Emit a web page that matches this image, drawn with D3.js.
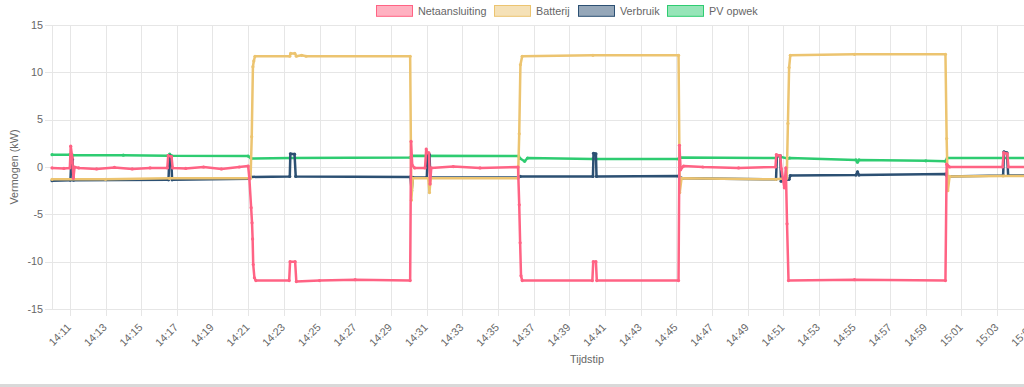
<!DOCTYPE html>
<html>
<head>
<meta charset="utf-8">
<script src="https://cdn.jsdelivr.net/npm/d3@7"></script>
<style>
body { margin: 0; overflow: hidden; background: #fff; }
svg { display: block; font-family: "Liberation Sans", Arial, sans-serif; }
</style>
</head>
<body>
<svg id="chart" width="1136" height="387"></svg>
<script>
// series data, [tijdstip, kW]
const netaansluiting = [
    ['14:10:00', -0.1], ['14:10:40', -0.15], ['14:11:00', -0.1], ['14:11:03', 2.2], ['14:11:08', 1.0],
    ['14:11:12', -1.2], ['14:11:16', 0.0], ['14:11:30', -0.1], ['14:12:30', -0.2], ['14:13:30', -0.05],
    ['14:14:30', -0.2], ['14:15:30', -0.1], ['14:16:28', -0.1], ['14:16:31', 1.2], ['14:16:42', 1.1],
    ['14:16:46', -0.1], ['14:17:30', -0.15], ['14:18:30', 0.0], ['14:19:30', -0.2], ['14:20:30', 0.0],
    ['14:21:00', 0.1], ['14:21:04', -1.2], ['14:21:10', -4.3], ['14:21:13', -5.9], ['14:21:15', -7.6],
    ['14:21:17', -10.3], ['14:21:21', -11.7], ['14:21:26', -12.0], ['14:23:18', -12.0], ['14:23:21', -10.0],
    ['14:23:38', -10.0], ['14:23:42', -12.1], ['14:25:00', -12.0], ['14:27:00', -11.9], ['14:30:05', -12.0],
    ['14:30:08', 2.7], ['14:30:12', 0.2], ['14:30:20', -0.1], ['14:30:55', -0.1], ['14:30:59', 1.9],
    ['14:31:03', 1.5], ['14:31:08', 1.5], ['14:31:12', -1.8], ['14:31:16', -0.1], ['14:32:30', 0.05],
    ['14:34:00', -0.1], ['14:36:08', 0.0], ['14:36:12', -4.0], ['14:36:15', -8.0], ['14:36:18', -11.5],
    ['14:36:22', -12.0], ['14:40:18', -12.0], ['14:40:21', -10.0], ['14:40:30', -10.0], ['14:40:33', -12.0],
    ['14:45:08', -12.0], ['14:45:11', 2.3], ['14:45:15', -0.3], ['14:45:25', 0.1], ['14:46:30', 0.0],
    ['14:48:30', -0.1], ['14:50:34', 0.0], ['14:50:37', 1.3], ['14:50:50', 1.2], ['14:50:54', -0.2],
    ['14:51:04', -2.2], ['14:51:09', -0.1], ['14:51:13', -6.0], ['14:51:18', -12.0], ['14:55:00', -11.9],
    ['15:00:06', -12.0], ['15:00:10', 0.3], ['15:00:20', 0.0], ['15:03:18', 0.0], ['15:03:22', 1.5],
    ['15:03:34', 1.4], ['15:03:38', 0.0], ['15:10:00', 0.0]
];

const batterij = [
    ['14:10:00', -1.3], ['14:13:00', -1.3], ['14:16:35', -1.2], ['14:21:08', -1.2], ['14:21:12', 3.2],
    ['14:21:16', 10.6], ['14:21:19', 11.2], ['14:21:23', 11.7], ['14:23:20', 11.7], ['14:23:23', 12.0],
    ['14:23:37', 12.0], ['14:23:42', 11.7], ['14:24:00', 11.8], ['14:24:15', 11.7], ['14:30:05', 11.7],
    ['14:30:09', -3.5], ['14:30:14', -1.2], ['14:31:06', -1.2], ['14:31:10', -2.7], ['14:31:14', -1.2],
    ['14:36:08', -1.2], ['14:36:12', 3.5], ['14:36:16', 10.8], ['14:36:22', 11.7], ['14:40:20', 11.8],
    ['14:45:08', 11.8], ['14:45:12', -2.7], ['14:45:18', -1.2], ['14:50:35', -1.3], ['14:51:12', -1.2],
    ['14:51:16', 4.6], ['14:51:20', 10.5], ['14:51:24', 11.8], ['14:55:00', 11.9], ['15:00:06', 11.9],
    ['15:00:10', 3.0], ['15:00:14', -2.5], ['15:00:20', -1.0], ['15:03:20', -0.95], ['15:10:00', -1.0]
];

const verbruik = [
    ['14:10:00', -1.45], ['14:11:02', -1.4], ['14:11:05', 0.8], ['14:11:09', 0.8], ['14:11:12', -1.4],
    ['14:16:32', -1.35], ['14:16:35', 1.2], ['14:16:41', 1.1], ['14:16:44', -1.35], ['14:21:05', -1.25],
    ['14:21:08', -1.05], ['14:23:20', -1.0], ['14:23:22', 1.4], ['14:23:36', 1.35], ['14:23:40', -1.0],
    ['14:30:06', -1.05], ['14:30:10', -2.5], ['14:30:14', -1.1], ['14:31:01', -1.1], ['14:31:04', 1.3],
    ['14:31:10', 1.3], ['14:31:13', -1.1], ['14:36:10', -1.1], ['14:36:15', -1.0], ['14:40:20', -1.0],
    ['14:40:22', 1.45], ['14:40:30', 1.4], ['14:40:32', -1.0], ['14:45:08', -0.95], ['14:45:20', -1.2],
    ['14:50:36', -1.3], ['14:50:39', 1.2], ['14:50:50', 1.2], ['14:50:53', -1.5], ['14:51:20', -1.3],
    ['14:51:24', -0.9], ['14:55:05', -0.85], ['14:55:10', -0.5], ['14:55:15', -0.85], ['15:00:06', -0.75],
    ['15:00:12', -1.0], ['15:03:20', -0.9], ['15:03:23', 1.6], ['15:03:33', 1.5], ['15:03:37', -0.9],
    ['15:10:00', -0.9]
];

const pvOpwek = [
    ['14:10:00', 1.3], ['14:11:00', 1.3], ['14:11:05', 1.0], ['14:11:10', 1.25], ['14:14:00', 1.25],
    ['14:16:30', 1.2], ['14:16:36', 1.35], ['14:16:42', 1.2], ['14:21:00', 1.15], ['14:21:10', 0.9],
    ['14:23:20', 0.95], ['14:30:05', 1.0], ['14:30:10', 1.2], ['14:36:10', 1.15], ['14:36:15', 0.9],
    ['14:36:30', 0.6], ['14:36:40', 0.95], ['14:40:20', 0.85], ['14:45:08', 0.85], ['14:45:12', 1.0],
    ['14:50:36', 0.95], ['14:50:40', 1.15], ['14:51:15', 0.9], ['14:51:22', 0.95], ['14:55:05', 0.75],
    ['14:55:10', 0.5], ['14:55:15', 0.75], ['14:59:00', 0.65], ['15:00:06', 0.62], ['15:00:12', 0.95],
    ['15:10:00', 0.95]
];

const seriesNames = ['Netaansluiting', 'Batterij', 'Verbruik', 'PV opwek'];
const seriesColors = ['rgb(255,99,132)', 'rgb(236,196,112)', 'rgb(44,80,115)', 'rgb(46,204,113)'];
const yTicks = [-15, -10, -5, 0, 5, 10, 15];
const timeStart = '14:10:00';
const timeEnd = '15:10:00';

// layout
const svg = d3.select('#chart');
const plotLeft = 52, plotRight = 1122, plotTop = 25, plotBottom = 309;
const gridColor = '#e6e6e6';
const textColor = '#666';
const fontSize = 10.8; // page looks zoomed to 90%

const parseTime = d3.timeParse('%H:%M:%S');

const x = d3.scaleTime()
    .domain([parseTime(timeStart), parseTime(timeEnd)])
    .range([plotLeft, plotRight]);

const y = d3.scaleLinear()
    .domain([-15, 15])
    .range([plotBottom, plotTop]);

// ticks on the odd minutes, like the original
const xTicks = d3.timeMinute.range(x.domain()[0], x.domain()[1])
    .filter(d => d.getMinutes() % 2 === 1);

// grid
const grid = svg.append('g');
grid.selectAll('line.h')
    .data(yTicks)
    .enter()
    .append('line')
    .attr('x1', plotLeft - 7)
    .attr('x2', plotRight)
    .attr('y1', d => Math.round(y(d)) + 0.5)
    .attr('y2', d => Math.round(y(d)) + 0.5)
    .attr('stroke', gridColor);

grid.selectAll('line.v')
    .data([x.domain()[0]].concat(xTicks))
    .enter()
    .append('line')
    .attr('x1', d => Math.round(x(d)) + 0.5)
    .attr('x2', d => Math.round(x(d)) + 0.5)
    .attr('y1', plotTop)
    .attr('y2', (d, i) => i === 0 ? plotBottom : plotBottom + 7)
    .attr('stroke', gridColor);

// y axis labels
svg.append('g')
    .selectAll('text')
    .data(yTicks)
    .enter()
    .append('text')
    .attr('x', plotLeft - 9)
    .attr('y', d => y(d))
    .attr('dy', '0.35em')
    .attr('text-anchor', 'end')
    .attr('font-size', fontSize)
    .attr('fill', textColor)
    .text(d => d);

// x axis labels, rotated
const fmt = d3.timeFormat('%H:%M');
svg.append('g')
    .selectAll('text')
    .data(xTicks)
    .enter()
    .append('text')
    .attr('transform', d => `translate(${x(d) + 2},${plotBottom + 19}) rotate(-45)`)
    .attr('text-anchor', 'end')
    .attr('font-size', fontSize)
    .attr('fill', textColor)
    .text(d => fmt(d));

// axis titles
svg.append('text')
    .attr('transform', `translate(18,${(plotTop + plotBottom) / 2}) rotate(-90)`)
    .attr('text-anchor', 'middle')
    .attr('font-size', fontSize)
    .attr('fill', textColor)
    .text('Vermogen (kW)');

svg.append('text')
    .attr('x', (plotLeft + plotRight) / 2)
    .attr('y', 363)
    .attr('text-anchor', 'middle')
    .attr('font-size', fontSize)
    .attr('fill', textColor)
    .text('Tijdstip');

// lines, first dataset ends up on top
const allSeries = [netaansluiting, batterij, verbruik, pvOpwek];
const line = d3.line()
    .x(d => x(parseTime(d[0])))
    .y(d => y(d[1]));

for (let i = allSeries.length - 1; i >= 0; i--) {
    const g = svg.append('g');
    g.append('path')
        .datum(allSeries[i])
        .attr('fill', 'none')
        .attr('stroke', seriesColors[i])
        .attr('stroke-width', 2.5)
        .attr('stroke-linejoin', 'round')
        .attr('d', line);
    g.selectAll('circle')
        .data(allSeries[i])
        .enter()
        .append('circle')
        .attr('cx', d => x(parseTime(d[0])))
        .attr('cy', d => y(d[1]))
        .attr('r', 1.6)
        .attr('fill', seriesColors[i]);
}

// legend
const legendX = [376, 494, 578, 667];
const legend = svg.append('g');
seriesNames.forEach((name, i) => {
    const c = d3.color(seriesColors[i]);
    c.opacity = 0.5;
    legend.append('rect')
        .attr('x', legendX[i] + 0.5)
        .attr('y', 5.5)
        .attr('width', 36)
        .attr('height', 10.8)
        .attr('fill', c.toString())
        .attr('stroke', seriesColors[i])
        .attr('stroke-width', 1);
    legend.append('text')
        .attr('x', legendX[i] + 42)
        .attr('y', 14.5)
        .attr('font-size', fontSize)
        .attr('fill', textColor)
        .text(name);
});

// grey strip at the bottom of the page
svg.append('rect')
    .attr('x', 0)
    .attr('y', 384)
    .attr('width', 1136)
    .attr('height', 3)
    .attr('fill', '#d9d9d9');
</script>
</body>
</html>
